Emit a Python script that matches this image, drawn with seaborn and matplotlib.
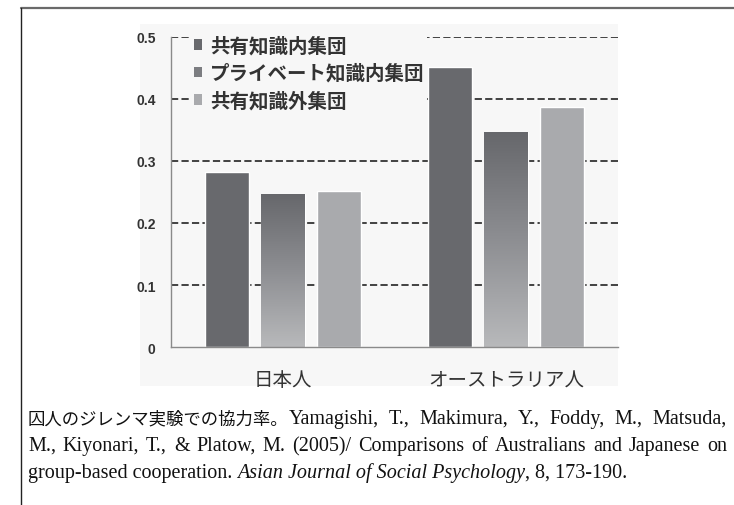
import numpy as np
import pandas as pd
import matplotlib
matplotlib.use("Agg")
import matplotlib.pyplot as plt
import seaborn as sns
from matplotlib.patches import Rectangle, Patch
from matplotlib.lines import Line2D
from matplotlib.colors import LinearSegmentedColormap

# ---- data -------------------------------------------------------------
groups = ["日本人", "オーストラリア人"]
conditions = ["共有知識内集団", "プライベート知識内集団", "共有知識外集団"]
shared_in = [0.282, 0.452]
private_in = [0.247, 0.347]
shared_out = [0.252, 0.387]
yticks = [0, 0.1, 0.2, 0.3, 0.4, 0.5]
ytick_labels = ["0", "0.1", "0.2", "0.3", "0.4", "0.5"]

caption_jp = "囚人のジレンマ実験での協力率。"
caption_line1 = ["Yamagishi,", "T.,", "Makimura,", "Y.,", "Foddy,", "M.,", "Matsuda,"]
caption_line2 = ["M.,", "Kiyonari,", "T.,", "&", "Platow,", "M.", "(2005)/", "Comparisons",
                 "of", "Australians", "and", "Japanese", "on"]
caption_line3 = [("group-based cooperation.", "normal", True),
                 ("Asian Journal of Social Psychology", "italic", True),
                 (", 8, 173-190.", "normal", False)]

# ---- style ------------------------------------------------------------
sns.set_theme(style="white")
plt.rcParams["font.family"] = ["Noto Sans CJK JP", "DejaVu Sans"]

W, H = 734, 506
bar_colors = ["#68696d", "#7c7d81", "#a9aaad"]
bg = "#f7f7f7"

df = pd.DataFrame({
    "group": groups * 3,
    "condition": [c for c in conditions for _ in groups],
    "rate": shared_in + private_in + shared_out,
})

fig = plt.figure(figsize=(W / 100, H / 100), dpi=100)
fig.patch.set_facecolor("white")


def fx(px):
    return px / W


def fy(py):
    return 1 - py / H


# light panel behind the chart
fig.add_artist(Rectangle((fx(140), fy(387)), fx(618 - 140), (387 - 25) / H,
                         transform=fig.transFigure, facecolor=bg,
                         edgecolor="none", zorder=-1))

# page rules
fig.add_artist(Line2D([fx(21), 1], [fy(8.5), fy(8.5)], transform=fig.transFigure,
                      color="#6a6a6a", lw=1.6))
fig.add_artist(Line2D([fx(21), fx(21)], [0, fy(8.5)], transform=fig.transFigure,
                      color="#222222", lw=1.0))

ax = fig.add_axes([fx(171), 1 - 348 / H, fx(618 - 171), (348 - 38) / H])
ax.set_facecolor("none")

sns.barplot(data=df, x="group", y="rate", hue="condition", order=groups,
            hue_order=conditions, palette=bar_colors, saturation=1,
            width=0.75, gap=0.215, ax=ax, legend=False, err_kws={"linewidth": 0})

# vertical gradient on the middle series
grad_cmap = LinearSegmentedColormap.from_list("g", ["#b8b9bb", "#8d8e92", "#66676b"])
grad = np.linspace(0, 1, 256).reshape(-1, 1)
for bar in ax.containers[1]:
    x0, y0 = bar.get_x(), bar.get_y()
    w, h = bar.get_width(), bar.get_height()
    im = ax.imshow(grad, extent=[x0, x0 + w, y0, y0 + h], origin="lower",
                   cmap=grad_cmap, aspect="auto", zorder=bar.get_zorder() + 0.01,
                   interpolation="bilinear")
    im.set_clip_path(bar)

ax.set_xlim(-0.5, 1.5)
ax.set_ylim(0, 0.5)
ax.set_axisbelow(True)
ax.yaxis.grid(True, linestyle=(0, (4, 1.8)), linewidth=1.3, color="#333333")
ax.xaxis.grid(False)
ax.set_yticks(yticks, ytick_labels)
ax.yaxis.get_major_ticks()[0].gridline.set_visible(False)
ax.set_xticks([0.5, 1.5], minor=True)
ax.tick_params(axis="y", length=0, pad=11, labelsize=10, labelcolor="#333333")
ax.tick_params(axis="x", which="major", length=0, pad=16, labelsize=14,
               labelcolor="#333333")
ax.tick_params(axis="x", which="minor", direction="in", length=4, width=0.8,
               color="#888888")
for lab in ax.get_yticklabels():
    lab.set_family(["Liberation Sans", "DejaVu Sans"])
    lab.set_fontweight("bold")
ax.set_xlabel("")
ax.set_ylabel("")
for side in ("top", "right"):
    ax.spines[side].set_visible(False)
for side in ("left", "bottom"):
    ax.spines[side].set_color("#8a8a8a")
    ax.spines[side].set_linewidth(1.0)

# legend with square swatches
handles = [Patch(facecolor=c, edgecolor="none") for c in bar_colors]
leg = ax.legend(handles, conditions, loc="upper left",
                bbox_to_anchor=(fx(191), fy(34)), bbox_transform=fig.transFigure,
                fontsize=14, frameon=True, facecolor=bg, edgecolor="none",
                framealpha=1, handlelength=0.42, handleheight=0.42,
                handletextpad=0.4, labelspacing=0.41, borderpad=0.15,
                borderaxespad=0, fancybox=False)
for t in leg.get_texts():
    t.set_color("#333333")
    t.set_fontweight("bold")

# ---- caption ------------------------------------------------------------
renderer = fig.canvas.get_renderer()
cap_font = dict(family=["Liberation Serif", "Noto Sans CJK JP"], fontsize=14.5,
                color="#111111")
jp_font = dict(family=["Noto Sans CJK JP", "DejaVu Sans"], fontsize=12.5,
               color="#111111")
left_px, right_px = 28, 727


def text_width(s, style="normal", font=cap_font):
    t = fig.text(0, 0, s, fontstyle=style, **font)
    w = t.get_window_extent(renderer).width
    t.remove()
    return w


space_w = text_width("x x") - text_width("xx")


def justified(words, base_px, lead=None):
    x = left_px
    avail = right_px - left_px
    if lead is not None:
        lead_w = text_width(lead, font=jp_font)
        fig.text(fx(x), fy(base_px), lead, va="baseline", ha="left", **jp_font)
        x += lead_w
        avail -= lead_w
    widths = [text_width(w) for w in words]
    gap = (avail - sum(widths)) / (len(words) - 1)
    for word, w in zip(words, widths):
        fig.text(fx(x), fy(base_px), word, va="baseline", ha="left", **cap_font)
        x += w + gap


def flowing(parts, base_px):
    x = left_px
    for i, (s, style, spaced) in enumerate(parts):
        if i > 0 and spaced:
            x += space_w
        fig.text(fx(x), fy(base_px), s, va="baseline", ha="left",
                 fontstyle=style, **cap_font)
        x += text_width(s, style)


justified(caption_line1, 424, lead=caption_jp)
justified(caption_line2, 451)
flowing(caption_line3, 478)

fig.savefig("out.png", dpi=100, facecolor="white")
